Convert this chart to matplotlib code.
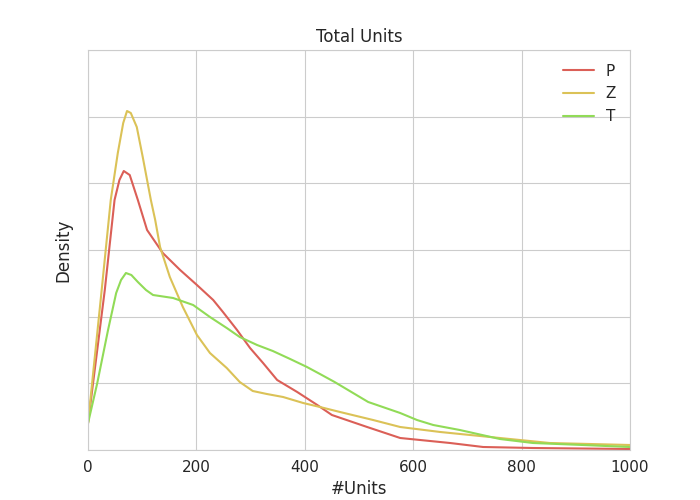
import matplotlib
matplotlib.use("Agg")
import matplotlib.pyplot as plt
import seaborn as sns

# density curves (y in 1e-3 units)
p_x = [0, 31, 49, 58, 66, 77, 92, 109, 138, 170, 201, 231, 249, 275, 299,
       323, 349, 386, 423, 450, 515, 576, 668, 729, 821, 1000]
p_y = [0.4, 2.4, 3.75, 4.05, 4.185, 4.125, 3.75, 3.3, 2.955, 2.7, 2.475,
       2.25, 2.07, 1.8, 1.53, 1.305, 1.05, 0.87, 0.675, 0.525, 0.345, 0.18,
       0.105, 0.045, 0.03, 0.015]

z_x = [0, 24, 42, 55, 65, 72, 79, 90, 101, 116, 124, 133, 151, 175, 201, 225,
       256, 280, 304, 330, 360, 397, 428, 465, 526, 576, 650, 760, 852, 1000]
z_y = [0.4, 2.3, 3.75, 4.455, 4.905, 5.085, 5.055, 4.845, 4.395, 3.75, 3.45,
       3.045, 2.595, 2.145, 1.725, 1.455, 1.23, 1.02, 0.885, 0.84, 0.795,
       0.705, 0.645, 0.57, 0.45, 0.345, 0.27, 0.18, 0.105, 0.075]

t_x = [0, 17, 37, 52, 61, 70, 80, 92, 107, 120, 157, 194, 225, 256, 280, 312,
       341, 373, 404, 428, 455, 517, 576, 607, 637, 686, 760, 821, 913, 1000]
t_y = [0.4, 1.0, 1.8, 2.355, 2.55, 2.655, 2.625, 2.52, 2.4, 2.325, 2.28,
       2.175, 1.995, 1.83, 1.695, 1.575, 1.485, 1.365, 1.245, 1.14, 1.02,
       0.72, 0.555, 0.45, 0.375, 0.3, 0.165, 0.105, 0.075, 0.045]

sns.set_style("whitegrid")
colors = sns.color_palette("hls", 8)

fig = plt.figure(figsize=(7, 5), dpi=100)
ax = fig.add_axes([0.1257, 0.1, 0.7743, 0.8])

ax.plot(p_x, [v / 1000 for v in p_y], color=colors[0], lw=1.5, label="P")
ax.plot(z_x, [v / 1000 for v in z_y], color=colors[1], lw=1.5, label="Z")
ax.plot(t_x, [v / 1000 for v in t_y], color=colors[2], lw=1.5, label="T")

ax.set_xlim(0, 1000)
ax.set_ylim(0, 0.006)
ax.set_yticks([0, 0.001, 0.002, 0.003, 0.004, 0.005, 0.006])
ax.set_yticklabels([])
ax.set_xticks([0, 200, 400, 600, 800, 1000])
ax.tick_params(axis="x", labelsize=11)

ax.set_title("Total Units", fontsize=12)
ax.set_xlabel("#Units", fontsize=12)
ax.set_ylabel("Density", fontsize=12)
ax.legend(loc="upper right", frameon=False, fontsize=11)

fig.savefig("out.png")
